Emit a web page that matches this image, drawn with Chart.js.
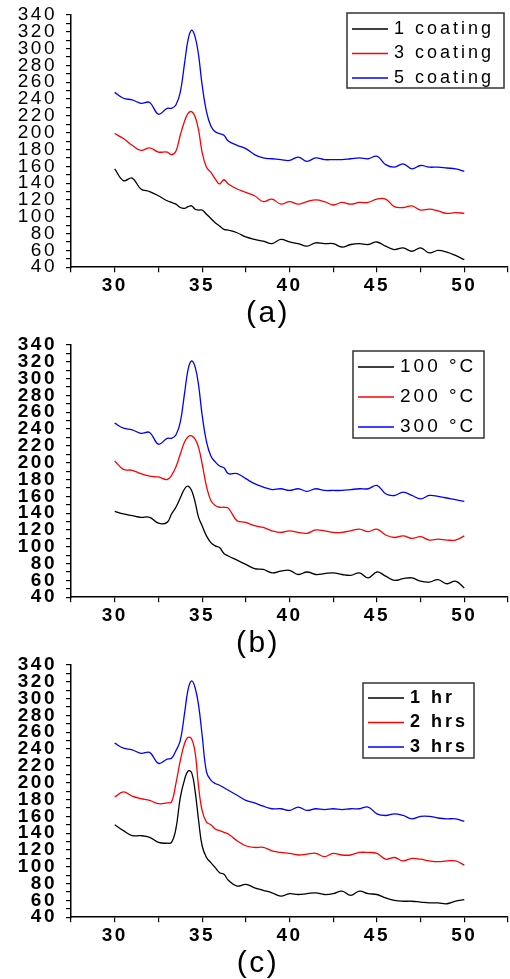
<!DOCTYPE html>
<html>
<head>
<meta charset="utf-8">
<script src="https://cdn.jsdelivr.net/npm/chart.js@4.4.1/dist/chart.umd.min.js"></script>
<style>
  body { margin: 0; background: #fff; width: 510px; height: 979px; position: relative; overflow: hidden; }
  .panel { position: absolute; left: 0; width: 510px; height: 329px; }
</style>
</head>
<body>
<div class="panel" style="top:0"><canvas id="chartA" width="510" height="329"></canvas></div>
<div class="panel" style="top:330px"><canvas id="chartB" width="510" height="329"></canvas></div>
<div class="panel" style="top:650px"><canvas id="chartC" width="510" height="329"></canvas></div>
<script>
// 2theta (deg), shared by all curves
const angle = [30, 30.5, 31, 31.5, 32, 32.5, 33, 33.25, 33.5, 33.75, 34, 34.2, 34.4, 34.6, 34.8, 35,
  35.25, 35.5, 35.75, 36, 36.25, 36.5, 37, 37.5, 38, 38.5, 39, 39.5, 40, 40.5, 41, 41.5, 42, 42.5,
  43, 43.5, 44, 44.5, 45, 45.5, 46, 46.5, 47, 47.5, 48, 48.5, 49, 49.5, 50]

// (a) number of coatings
const coatingLabels = ['1 coating', '3 coating', '5 coating']
const coating1 = [157, 143, 146, 133, 130, 125, 119, 117, 115, 111, 110, 112, 113, 109, 108, 108,
  103, 98, 93, 89, 85, 84, 81, 76, 73, 71, 68, 73, 70, 68, 65, 69, 68, 68,
  64, 67, 68, 67, 70, 65, 61, 63, 59, 63, 57, 60, 58, 54, 49]
const coating3 = [199, 193, 185, 179, 182, 177, 177, 174, 178, 197, 214, 223, 225, 219, 203, 177,
  159, 153, 145, 139, 144, 139, 133, 129, 125, 118, 121, 115, 118, 115, 118, 120, 118, 114,
  117, 115, 117, 117, 121, 121, 112, 111, 113, 108, 109, 107, 104, 105, 104]
const coating5 = [248, 241, 239, 235, 236, 222, 229, 229, 233, 248, 283, 311, 322, 314, 292, 257,
  225, 208, 201, 199, 197, 190, 185, 181, 174, 170, 169, 168, 167, 171, 166, 170, 168, 168,
  168, 169, 170, 169, 172, 162, 159, 163, 157, 161, 159, 159, 158, 157, 154]

// (b) annealing temperature
const tempLabels = ['100 °C', '200 °C', '300 °C']
const temp100 = [142, 139, 137, 135, 135, 128, 129, 139, 147, 158, 169, 172, 167, 153, 135, 125,
  113, 105, 101, 99, 92, 89, 84, 79, 74, 73, 69, 71, 72, 67, 70, 67, 68, 69,
  67, 66, 69, 63, 70, 65, 60, 62, 63, 59, 58, 61, 56, 59, 51]
const temp200 = [202, 192, 191, 187, 184, 183, 180, 185, 195, 210, 225, 231, 232, 228, 218, 199,
  172, 155, 149, 147, 147, 146, 131, 129, 125, 123, 119, 117, 119, 117, 116, 120, 119, 117,
  117, 119, 121, 118, 121, 114, 111, 113, 110, 112, 108, 109, 108, 108, 113]
const temp300 = [247, 241, 239, 235, 236, 222, 229, 229, 233, 248, 283, 311, 321, 314, 292, 257,
  225, 208, 201, 196, 194, 187, 187, 181, 175, 171, 168, 169, 167, 169, 166, 169, 167, 167,
  167, 168, 169, 169, 173, 163, 161, 165, 161, 157, 161, 160, 158, 156, 154]

// (c) annealing time
const timeLabels = ['1 hr', '2 hrs', '3 hrs']
const time1 = [150, 143, 137, 137, 135, 129, 128, 129, 145, 182, 204, 214, 212, 190, 155, 125,
  111, 105, 99, 93, 91, 84, 77, 79, 75, 72, 69, 65, 68, 67, 68, 69, 67, 68,
  71, 66, 71, 68, 67, 63, 60, 59, 59, 58, 57, 57, 56, 59, 61]
const time2 = [183, 189, 184, 181, 179, 175, 176, 177, 199, 226, 247, 254, 252, 236, 195, 167,
  153, 150, 145, 143, 141, 139, 131, 125, 123, 123, 119, 117, 116, 114, 115, 116, 112, 116,
  114, 114, 117, 117, 116, 109, 111, 107, 110, 109, 107, 106, 107, 107, 102]
const time3 = [247, 241, 239, 235, 236, 223, 228, 229, 238, 250, 283, 311, 321, 313, 292, 257,
  213, 203, 199, 197, 194, 191, 185, 179, 176, 172, 169, 169, 167, 171, 167, 169, 168, 169,
  168, 169, 169, 171, 163, 161, 163, 161, 157, 160, 160, 158, 157, 157, 154]

const colors = ['#000000', '#ff0000', '#0000ff']
const fontFamily = '"Liberation Sans", Arial, sans-serif'

// wide lettering like the original figure, and optional nudge of the panel label
const spacing = {
  id: 'spacing',
  beforeUpdate(chart) { chart.ctx.letterSpacing = '2.5px' },
  afterLayout(chart, args, o) {
    if (chart.titleBlock && o.titleShift) {
      chart.titleBlock.left += o.titleShift
      chart.titleBlock.right += o.titleShift
    }
  },
  beforeDraw(chart) { chart.ctx.letterSpacing = '2.5px' }
}

// boxed legend inside the plot, top right
const boxLegend = {
  id: 'boxLegend',
  afterDatasetsDraw(chart, args, o) {
    const ctx = chart.ctx
    const ca = chart.chartArea
    const left = ca.right - o.fromRight
    const top = ca.top + o.fromTop
    ctx.save()
    ctx.strokeStyle = '#333'
    ctx.lineWidth = 1.5
    ctx.strokeRect(left, top, o.width, o.height)
    ctx.font = o.font
    ctx.letterSpacing = o.spacing
    ctx.textBaseline = 'middle'
    ctx.fillStyle = '#000'
    chart.data.datasets.forEach((ds, i) => {
      const y = top + o.rowTop + i * o.rowGap
      ctx.strokeStyle = ds.borderColor
      ctx.lineWidth = 1.3
      ctx.beginPath()
      ctx.moveTo(left + 5, y)
      ctx.lineTo(left + 41, y)
      ctx.stroke()
      ctx.fillText(ds.label, left + 47, y)
    })
    ctx.restore()
  }
}

function makePanel(id, labels, series, p) {
  const datasets = series.map((vals, i) => ({
    label: labels[i],
    data: angle.map((x, j) => ({x: x, y: vals[j]})),
    borderColor: colors[i],
    borderWidth: 1.3,
    pointRadius: 0,
    tension: 0.4,
    fill: false
  }))

  return new Chart(document.getElementById(id), {
    type: 'line',
    data: {datasets},
    options: {
      responsive: false,
      animation: false,
      layout: {padding: {left: 6, right: 0, top: 15, bottom: 0}},
      scales: {
        x: {
          type: 'linear',
          min: 27.5,
          max: 52.5,
          grid: {drawOnChartArea: false, drawTicks: true, tickLength: 5, color: '#000', lineWidth: 1.2},
          border: {color: '#000', width: 1.5},
          ticks: {
            stepSize: 2.5,
            autoSkip: false,
            maxRotation: 0,
            padding: 2,
            color: '#000',
            font: {family: fontFamily, size: 19, weight: 'bold'},
            callback: v => (v % 5 === 0 ? v : '')
          }
        },
        y: {
          min: 40,
          max: 340,
          afterFit(scale) {
            scale.width = 65
            scale.paddingTop = 0
            scale.paddingBottom = 0
          },
          grid: {drawOnChartArea: false, drawTicks: true, tickLength: 5, color: '#000', lineWidth: 1.2},
          border: {color: '#000', width: 1.5},
          ticks: {
            stepSize: 10,
            autoSkip: false,
            padding: 9,
            color: '#000',
            font: {family: fontFamily, size: 19, weight: p.yBold ? 'bold' : 'normal'},
            callback: v => (v % 20 === 0 ? v : '')
          }
        }
      },
      plugins: {
        legend: {display: false},
        tooltip: {enabled: false},
        title: {
          display: true,
          text: p.title,
          position: 'bottom',
          color: '#000',
          font: {family: fontFamily, size: 30, weight: 'normal', lineHeight: 1},
          padding: {top: 0, bottom: 0}
        },
        spacing: {titleShift: p.titleShift || 0},
        boxLegend: p.legend
      }
    },
    plugins: [spacing, boxLegend]
  })
}

makePanel('chartA', coatingLabels, [coating1, coating3, coating5], {
  title: '(a)', titleShift: 10, yBold: false,
  legend: {fromRight: 161, fromTop: -2, width: 157, height: 75, rowTop: 16, rowGap: 24.5,
    font: '18px ' + fontFamily, spacing: '3px'}
})

makePanel('chartB', tempLabels, [temp100, temp200, temp300], {
  title: '(b)', yBold: true,
  legend: {fromRight: 155, fromTop: 6, width: 131, height: 87, rowTop: 16, rowGap: 30,
    font: '19px ' + fontFamily, spacing: '3px'}
})

makePanel('chartC', timeLabels, [time1, time2, time3], {
  title: '(c)', yBold: true,
  legend: {fromRight: 145, fromTop: 18, width: 111, height: 75, rowTop: 15, rowGap: 24.5,
    font: 'bold 18px ' + fontFamily, spacing: '3px'}
})
</script>
</body>
</html>
